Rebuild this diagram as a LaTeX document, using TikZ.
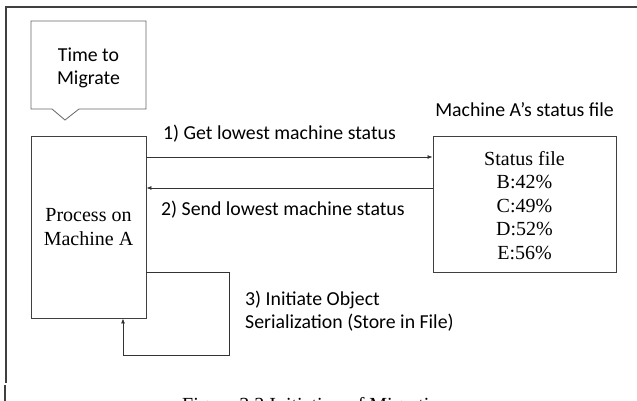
\documentclass[tikz,border=0pt]{standalone}
\usepackage{fontspec}
\setmainfont{Liberation Serif}
\newfontfamily\calibrifam{Carlito}
\usetikzlibrary{arrows.meta,calc}
\begin{document}
\begin{tikzpicture}[x=1pt,y=-1pt,
  box/.style={draw=black!75,line width=0.9pt,fill=white,inner sep=0pt},
  serif/.style={font=\fontsize{20}{23.5}\selectfont,align=center},
  sans/.style={font=\calibrifam\fontsize{19.8}{23}\selectfont,align=left,inner sep=0pt},
  arr/.style={draw=black!80,line width=0.8pt,-{Latex[length=5pt,width=4pt]}},
  frame/.style={draw=black!75,line width=1.6pt}]
\clip (0,0) rectangle (637,401);
\fill[white] (0,0) rectangle (637,401);
% outer frame (top and left only)
\coordinate (ftr) at (637,7);
\coordinate (ftl) at (6,7);
\coordinate (fbl) at (6,383);
\draw[frame] (ftr) -- (ftl) -- (fbl);
\coordinate (s1) at (5,385);
\coordinate (s2) at (5,405);
\draw[draw=black!75,line width=1.2pt] (s1) -- (s2);
% callout
\draw[draw=black!60,line width=0.8pt,fill=white]
  (31,21) -- (146,21) -- (146,109) -- (79,109) -- (65,120) -- (52,109) -- (31,109) -- cycle;
\node[sans,align=center] (tm) at (88.5,68) {Time to\\Migrate};
% process box
\node[box,minimum width=115pt,minimum height=182pt] (proc) at (88.5,227) {};
\node[serif] (proctxt) at (proc.center) {Process on\\Machine A};
% status box
\node[box,minimum width=183pt,minimum height=136pt] (st) at (524.5,204) {};
\node[serif] (sttxt) at (524.5,205.5) {Status file\\B:42\%\\C:49\%\\D:52\%\\E:56\%};
\node[sans] (stlbl) at (524.5,110) {Machine A’s status file};
% arrows
\draw[arr] (proc.east |- 0,157) -- (st.west |- 0,157);
\draw[arr] (st.west |- 0,188) -- (proc.east |- 0,188);
\node[sans,anchor=west] (l1) at (163,134) {1) Get lowest machine status};
\node[sans,anchor=west] (l2) at (161,210) {2) Send lowest machine status};
% loop
\coordinate (la) at (229,272);
\coordinate (lb) at (229,355);
\coordinate (lc) at (123,355);
\draw[arr] (proc.east |- la) -- (la) -- (lb) -- (lc) -- (lc |- proc.south);
\node[sans,anchor=west] (l3) at (245,311.5) {3) Initiate Object\\Serialization (Store in File)};
% caption (cut off)
\node[font=\fontsize{20}{23}\selectfont,anchor=base west,inner sep=0pt] (cap) at (182,411.5) {Figure 3.3 Initiation of Migration};
\end{tikzpicture}
\end{document}
